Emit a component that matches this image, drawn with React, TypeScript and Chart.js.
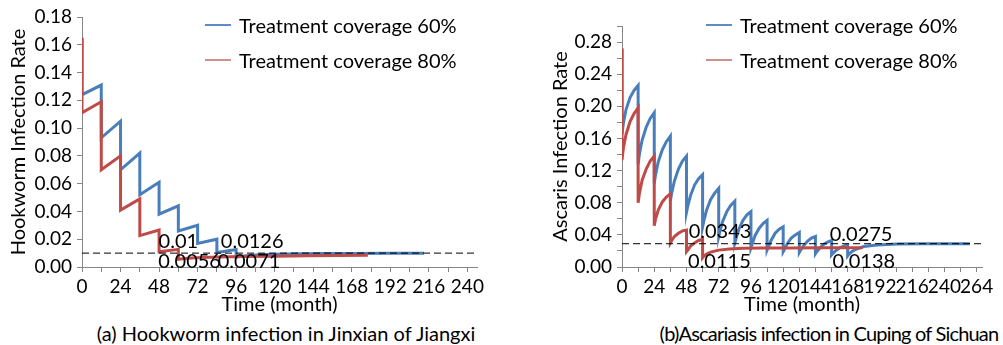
import React, { useEffect, useRef } from 'react';
import { Chart, registerables } from 'chart.js';
Chart.register(...registerables);

const FONT = 'Lato, "Noto Sans", sans-serif';
const TEXT_SIZE = 20;
const TICK_SIZE = 19;
const BLUE = '#4A7EBB';
const RED = '#BE4B48';
const AXIS = '#868686';

const seriesLabels = ['Treatment coverage 60%', 'Treatment coverage 80%'];

// (a) Hookworm, Jinxian of Jiangxi
const hookMonths60 = [0, 0, 12, 12, 24, 24, 36, 36, 48, 48, 60, 60, 72, 72, 84, 84, 96, 96, 99, 104, 110, 120, 135, 150, 170, 190, 213];
const hookRate60 = [0.165, 0.124, 0.131, 0.093, 0.105, 0.070, 0.082, 0.052, 0.061, 0.038, 0.044, 0.026, 0.030, 0.017, 0.020, 0.0105, 0.0126, 0.0071, 0.0077, 0.0083, 0.0088, 0.0092, 0.0095, 0.0097, 0.0098, 0.0099, 0.0099];
const hookMonths80 = [0, 0, 12, 12, 24, 24, 36, 36, 48, 48, 60, 60, 63, 68, 75, 85, 100, 120, 140, 160, 178];
const hookRate80 = [0.165, 0.111, 0.119, 0.070, 0.080, 0.041, 0.049, 0.0226, 0.0266, 0.011, 0.0127, 0.0056, 0.0060, 0.0065, 0.0069, 0.0072, 0.0075, 0.0078, 0.0081, 0.0083, 0.0085];
const hookThreshold = 0.01;
const hookNotes = ['0.01', '0.0126', '0.0056', '0.0071'];
const hookNoteMonths = [60, 106, 67, 104];
const hookNoteRates = [0.018, 0.018, 0.0038, 0.0038];

// (b) Ascaris, Cuping of Sichuan
const ascMonths60 = [
  0, 0, 1, 3, 6, 9, 12, 12, 13, 15, 18, 21, 24, 24, 25, 27, 30, 33, 36, 36,
  37, 39, 42, 45, 48, 48, 49, 51, 54, 57, 60, 60, 61, 63, 66, 69, 72, 72,
  73, 75, 78, 81, 84, 84, 85, 87, 90, 93, 96, 96, 97, 99, 102, 105, 108, 108,
  109, 111, 114, 117, 120, 120, 121, 123, 126, 129, 132, 132, 133, 135, 138, 141, 144, 144,
  145, 147, 150, 153, 156, 156, 157, 159, 162, 165, 168, 168,
  169, 171, 174, 180, 190, 205, 225, 259,
];
const ascRate60 = [
  0.272, 0.165, 0.179, 0.196, 0.211, 0.220, 0.226, 0.128, 0.141, 0.158, 0.174, 0.185, 0.192, 0.104, 0.115, 0.131, 0.146, 0.156, 0.163, 0.082,
  0.092, 0.107, 0.122, 0.132, 0.138, 0.068, 0.076, 0.089, 0.102, 0.110, 0.115, 0.050, 0.058, 0.071, 0.084, 0.092, 0.098, 0.038,
  0.045, 0.057, 0.069, 0.077, 0.082, 0.030, 0.036, 0.047, 0.058, 0.065, 0.069, 0.024, 0.029, 0.039, 0.048, 0.054, 0.058, 0.021,
  0.025, 0.033, 0.042, 0.047, 0.050, 0.019, 0.022, 0.029, 0.036, 0.040, 0.043, 0.018, 0.021, 0.026, 0.032, 0.036, 0.038, 0.0165,
  0.019, 0.023, 0.028, 0.031, 0.033, 0.015, 0.017, 0.020, 0.024, 0.026, 0.0275, 0.0138,
  0.016, 0.019, 0.022, 0.0255, 0.0275, 0.0285, 0.029, 0.029,
];
const ascMonths80 = [
  0, 0, 1, 3, 6, 9, 12, 12, 13, 15, 18, 21, 24, 24, 25, 27, 30, 33, 36, 36,
  37, 39, 42, 45, 48, 48, 49, 51, 54, 57, 60, 60,
  61, 63, 66, 72, 80, 90, 105, 125, 150, 179,
];
const ascRate80 = [
  0.272, 0.133, 0.148, 0.165, 0.181, 0.191, 0.198, 0.080, 0.092, 0.108, 0.122, 0.132, 0.138, 0.0515, 0.060, 0.071, 0.081, 0.087, 0.091, 0.030,
  0.033, 0.038, 0.042, 0.045, 0.046, 0.019, 0.021, 0.026, 0.030, 0.033, 0.0343, 0.0115,
  0.0135, 0.016, 0.0185, 0.021, 0.0225, 0.0232, 0.0236, 0.0238, 0.0239, 0.024,
];
const ascThreshold = 0.029;
const ascNotes = ['0.0343', '0.0115', '0.0275', '0.0138'];
const ascNoteMonths = [73, 72.5, 178, 180];
const ascNoteRates = [0.0436, 0.0062, 0.0407, 0.0062];

const pts = (xs: number[], ys: number[]) => xs.map((x, i) => ({ x, y: ys[i] }));

type PanelSpec = {
  s60: { x: number; y: number }[];
  s80: { x: number; y: number }[];
  threshold: number;
  xMax: number;
  xLastTick: number;
  yMax: number;
  yLabelEvery: number; // in hundredths
  yLabelMax: number;
  yTitle: string;
  yWidth: number;
  yTitlePad: number;
  padTop: number;
  padRight: number;
  notes: string[];
  noteX: number[];
  noteY: number[];
  height: number;
  xAxisBottom: number;
};

function makeConfig(p: PanelSpec): any {
  const notePlugin = {
    id: 'notes',
    afterDatasetsDraw(chart: any) {
      const { ctx } = chart;
      const xs = chart.scales.x;
      const ys = chart.scales.y;
      ctx.save();
      ctx.font = `${TEXT_SIZE}px ${FONT}`;
      ctx.fillStyle = '#000';
      ctx.textAlign = 'center';
      ctx.textBaseline = 'middle';
      p.notes.forEach((t, i) => {
        ctx.fillText(t, xs.getPixelForValue(p.noteX[i]), ys.getPixelForValue(p.noteY[i]));
      });
      ctx.restore();
    },
  };
  const tickFont = { family: FONT, size: TICK_SIZE };
  const titleFont = { family: FONT, size: TEXT_SIZE };
  return {
    type: 'line',
    data: {
      datasets: [
        {
          label: 'threshold',
          data: [{ x: 0, y: p.threshold }, { x: p.xMax, y: p.threshold }],
          borderColor: '#000',
          borderWidth: 1,
          borderDash: [7, 4],
          pointRadius: 0,
        },
        { label: seriesLabels[1], data: p.s80, borderColor: RED, borderWidth: 3, pointRadius: 0, tension: 0 },
        { label: seriesLabels[0], data: p.s60, borderColor: BLUE, borderWidth: 3, pointRadius: 0, tension: 0 },
      ],
    },
    options: {
      animation: false,
      responsive: false,
      devicePixelRatio: 1,
      layout: { padding: { top: p.padTop, right: p.padRight, left: 0, bottom: 0 } },
      plugins: { legend: { display: false }, tooltip: { enabled: false } },
      scales: {
        x: {
          type: 'linear',
          min: 0,
          max: p.xMax,
          afterFit: (s: any) => { s.height = p.height - p.xAxisBottom; },
          afterBuildTicks: (s: any) => {
            const t: any[] = [];
            for (let v = 0; v <= p.xLastTick; v += 12) t.push({ value: v });
            s.ticks = t;
          },
          ticks: {
            autoSkip: false,
            maxRotation: 0,
            minRotation: 0,
            padding: 3,
            color: '#000',
            font: tickFont,
            callback: (v: number) => (Math.round(v) % 24 === 0 ? String(Math.round(v)) : ''),
          },
          grid: { display: true, drawOnChartArea: false, drawTicks: true, tickLength: 5, color: AXIS },
          border: { display: true, color: AXIS, width: 1 },
          title: { display: true, text: 'Time (month)', color: '#000', font: titleFont, padding: { top: 0, bottom: 3 } },
        },
        y: {
          type: 'linear',
          min: 0,
          max: p.yMax,
          afterFit: (s: any) => { s.width = p.yWidth; },
          afterBuildTicks: (s: any) => {
            const t: any[] = [];
            const n = Math.round(p.yMax / 0.02);
            for (let i = 0; i <= n; i++) t.push({ value: Math.round(i * 2) / 100 });
            s.ticks = t;
          },
          ticks: {
            autoSkip: false,
            padding: 5,
            color: '#000',
            font: tickFont,
            callback: (v: number) => {
              const n = Math.round(v * 100);
              if (n % p.yLabelEvery !== 0 || v > p.yLabelMax + 1e-9) return '';
              return v.toFixed(2);
            },
          },
          grid: { display: true, drawOnChartArea: false, drawTicks: true, tickLength: 5, color: AXIS },
          border: { display: true, color: AXIS, width: 1 },
          title: { display: true, text: p.yTitle, color: '#000', font: titleFont, padding: { top: p.yTitlePad, bottom: 0 } },
        },
      },
    },
    plugins: [notePlugin],
  };
}

function Panel({ left, width, height, spec }: { left: number; width: number; height: number; spec: PanelSpec }) {
  const ref = useRef<HTMLCanvasElement>(null);
  useEffect(() => {
    const chart = new Chart(ref.current as HTMLCanvasElement, makeConfig(spec));
    return () => chart.destroy();
  }, []);
  return (
    <canvas
      ref={ref}
      width={width}
      height={height}
      style={{ position: 'absolute', left, top: 0, width, height }}
    />
  );
}

function Legend({ lineLeft, textLeft }: { lineLeft: number; textLeft: number }) {
  const rows = [
    { y: 25, color: '#5E8CC6', text: seriesLabels[0] },
    { y: 60, color: '#D08E8C', text: seriesLabels[1] },
  ];
  return (
    <>
      {rows.map((r) => (
        <React.Fragment key={r.text}>
          <div style={{ position: 'absolute', left: lineLeft, top: r.y - 1, width: 26, height: 1.5, background: r.color }} />
          <div
            style={{
              position: 'absolute',
              left: textLeft,
              top: r.y - 13,
              height: 26,
              lineHeight: '26px',
              fontFamily: FONT,
              fontSize: TEXT_SIZE,
              color: '#000',
              whiteSpace: 'nowrap',
            }}
          >
            {r.text}
          </div>
        </React.Fragment>
      ))}
    </>
  );
}

function Caption({ center, text, spacing }: { center: number; text: string; spacing: number }) {
  return (
    <div
      style={{
        position: 'absolute',
        left: center,
        top: 320,
        height: 26,
        lineHeight: '26px',
        transform: 'translateX(-50%)',
        fontFamily: FONT,
        fontSize: TEXT_SIZE,
        letterSpacing: spacing,
        color: '#000',
        whiteSpace: 'nowrap',
      }}
    >
      {text}
    </div>
  );
}

const leftSpec: PanelSpec = {
  s60: pts(hookMonths60, hookRate60),
  s80: pts(hookMonths80, hookRate80),
  threshold: hookThreshold,
  xMax: 246,
  xLastTick: 240,
  yMax: 0.18,
  yLabelEvery: 2,
  yLabelMax: 0.18,
  yTitle: 'Hookworm Infection Rate',
  yWidth: 82,
  yTitlePad: 7,
  padTop: 17,
  padRight: 23,
  notes: hookNotes,
  noteX: hookNoteMonths,
  noteY: hookNoteRates,
  height: 320,
  xAxisBottom: 267,
};

const rightSpec: PanelSpec = {
  s60: pts(ascMonths60, ascRate60),
  s80: pts(ascMonths80, ascRate80),
  threshold: ascThreshold,
  xMax: 268,
  xLastTick: 264,
  yMax: 0.30,
  yLabelEvery: 4,
  yLabelMax: 0.28,
  yTitle: 'Ascaris Infection Rate',
  yWidth: 122,
  yTitlePad: 49,
  padTop: 26,
  padRight: 21,
  notes: ascNotes,
  noteX: ascNoteMonths,
  noteY: ascNoteRates,
  height: 320,
  xAxisBottom: 267,
};

export default function App() {
  return (
    <div style={{ position: 'fixed', left: 0, top: 0, width: 1003, height: 345, background: '#fff', overflow: 'hidden' }}>
      <Panel left={0} width={500} height={320} spec={leftSpec} />
      <Panel left={500} width={503} height={320} spec={rightSpec} />
      <Legend lineLeft={205} textLeft={239} />
      <Legend lineLeft={706} textLeft={740} />
      <Caption center={286} spacing={0} text="(a) Hookworm infection in Jinxian of Jiangxi" />
      <Caption center={829} spacing={-0.8} text="(b)Ascariasis infection in Cuping of Sichuan" />
    </div>
  );
}
